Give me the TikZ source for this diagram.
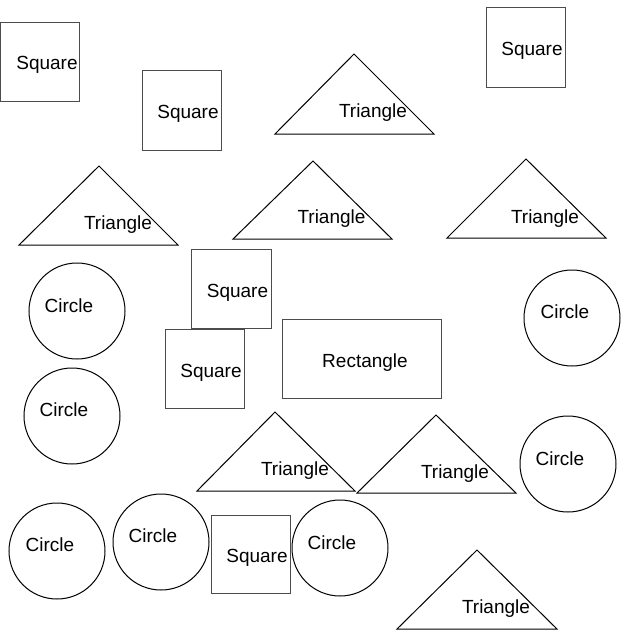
\documentclass[tikz,border=0pt]{standalone}
\usepackage{fontspec}
\setmainfont{Liberation Sans}
\begin{document}
\begin{tikzpicture}[x=1pt,y=-1pt,
  shp/.style={draw=black, line width=1pt, line join=miter},
  sq/.style={draw=black!70, line width=1pt},
  lbl/.style={anchor=base, inner sep=0pt, yshift=1pt, font=\fontsize{19}{22}\selectfont}]
\fill[white] (0,0) rectangle (640,640);
\useasboundingbox (0,0) rectangle (640,640);
% squares
\draw[sq] (0,22) rectangle (79,101);
\node[lbl] (s1) at (47,70) {Square};
\draw[sq] (142,70) rectangle (221,150);
\node[lbl] (s2) at (188,119) {Square};
\draw[sq] (486,7) rectangle (565,87);
\node[lbl] (s3) at (532,56) {Square};
\draw[sq] (191,249) rectangle (271,328);
\node[lbl] (s4) at (237.5,298) {Square};
\draw[sq] (165,329) rectangle (244,408);
\node[lbl] (s5) at (211,378) {Square};
\draw[sq] (211,515) rectangle (290,593);
\node[lbl] (s6) at (257,563) {Square};
% rectangle
\draw[sq] (282,319) rectangle (441,398);
\node[lbl] (r1) at (365,368) {Rectangle};
% triangles
\draw[shp] (354,54) -- (275,134) -- (434,134) -- cycle;
\node[lbl] (t1) at (373,118) {Triangle};
\draw[shp] (99,166) -- (19,245) -- (178,245) -- cycle;
\node[lbl] (t2) at (118,230) {Triangle};
\draw[shp] (313,161) -- (233,239) -- (392,239) -- cycle;
\node[lbl] (t3) at (331.5,224) {Triangle};
\draw[shp] (526,159) -- (447,238) -- (606,238) -- cycle;
\node[lbl] (t4) at (545,224) {Triangle};
\draw[shp] (275,412) -- (197,491) -- (355,491) -- cycle;
\node[lbl] (t5) at (295,476) {Triangle};
\draw[shp] (436,415) -- (357,493) -- (516,493) -- cycle;
\node[lbl] (t6) at (455,479) {Triangle};
\draw[shp] (477,550) -- (397,629) -- (557,629) -- cycle;
\node[lbl] (t7) at (496,614) {Triangle};
% circles
\draw[shp] (77,311) circle[radius=48];
\node[lbl] (c1) at (69,313) {Circle};
\draw[shp] (72,416) circle[radius=48];
\node[lbl] (c2) at (64,417) {Circle};
\draw[shp] (572,318) circle[radius=48];
\node[lbl] (c3) at (565,319) {Circle};
\draw[shp] (568,464) circle[radius=48];
\node[lbl] (c4) at (560,466) {Circle};
\draw[shp] (57,551) circle[radius=48];
\node[lbl] (c5) at (50,552) {Circle};
\draw[shp] (161,542) circle[radius=48];
\node[lbl] (c6) at (153,543) {Circle};
\draw[shp] (340,548) circle[radius=48];
\node[lbl] (c7) at (332,550) {Circle};
\end{tikzpicture}
\end{document}
